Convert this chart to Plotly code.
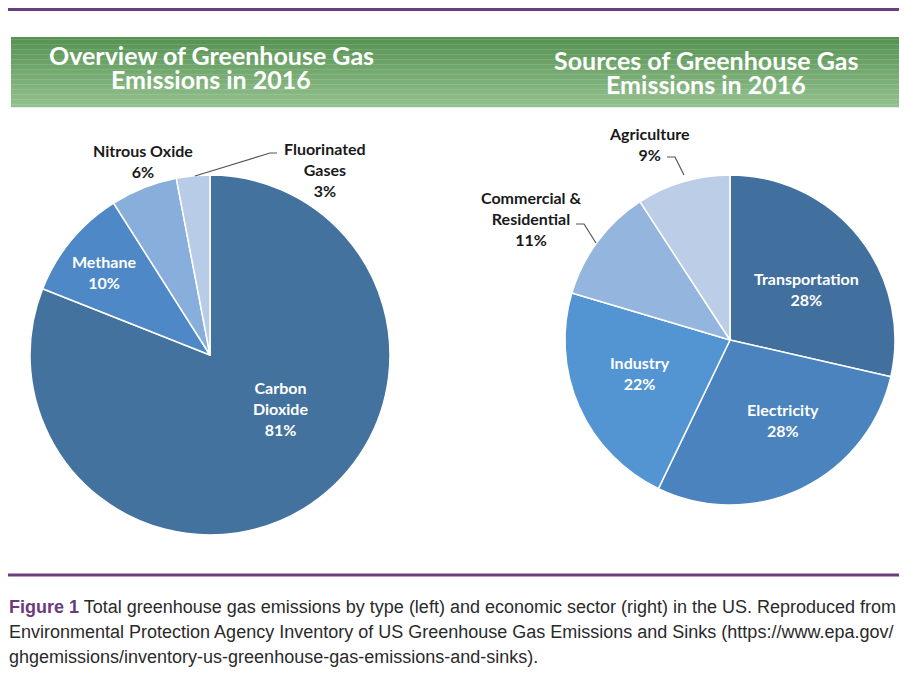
import plotly.graph_objects as go

# page body has an 8px margin; the figure is sized to fit inside the window
OFF = 8
W, H = 907 - OFF, 684 - 2 * OFF - 6

# ---- data ----
gas_names = ["Carbon Dioxide", "Methane", "Nitrous Oxide", "Fluorinated Gases"]
gas_display = ["Carbon<br>Dioxide", "Methane", "Nitrous Oxide", "Fluorinated<br>Gases"]
gas_pct = [81, 10, 6, 3]
gas_colors = ["#44729f", "#4e88c6", "#88aedb", "#b8cce8"]

sector_names = ["Transportation", "Electricity", "Industry", "Commercial & Residential", "Agriculture"]
sector_display = ["Transportation", "Electricity", "Industry", "Commercial &<br>Residential", "Agriculture"]
sector_pct = [28, 28, 22, 11, 9]
sector_colors = ["#41709f", "#4a83bd", "#5394d2", "#94b6de", "#bccde8"]

title_left = ["Overview of Greenhouse Gas", "Emissions in 2016"]
title_right = ["Sources of Greenhouse Gas", "Emissions in 2016"]
caption_lines = [
    "<b><span style='color:#6b3a7d'>Figure 1</span></b> Total greenhouse gas emissions by type (left) and economic sector (right) in the US. Reproduced from US",
    "Environmental Protection Agency Inventory of US Greenhouse Gas Emissions and Sinks (https://www.epa.gov/",
    "ghgemissions/inventory-us-greenhouse-gas-emissions-and-sinks).",
]


def X(px):
    return (px - OFF) / W


def Y(py):
    return 1 - (py - OFF) / H


fig = go.Figure()

fig.add_trace(go.Pie(
    labels=gas_names, values=gas_pct, sort=False, direction="clockwise", rotation=0,
    textinfo="none", marker=dict(colors=gas_colors, line=dict(color="white", width=1.5)),
    domain=dict(x=[X(30), X(390)], y=[Y(535), Y(175)]), showlegend=False,
))
fig.add_trace(go.Pie(
    labels=sector_names, values=sector_pct, sort=False, direction="clockwise", rotation=0,
    textinfo="none", marker=dict(colors=sector_colors, line=dict(color="white", width=1.5)),
    domain=dict(x=[X(565), X(895)], y=[Y(505), Y(175)]), showlegend=False,
))

shapes = []
# purple rules
shapes.append(dict(type="line", xref="paper", yref="paper", x0=0, x1=1, y0=Y(9.5), y1=Y(9.5),
                   line=dict(color="#6b3f7c", width=3)))
shapes.append(dict(type="line", xref="paper", yref="paper", x0=0, x1=1, y0=Y(575), y1=Y(575),
                   line=dict(color="#6b3f7c", width=3)))
# green banner gradient
top, bot = 37, 107
n = 28
c0 = (86, 146, 82)
c1 = (146, 192, 141)
for i in range(n):
    t = i / (n - 1)
    c = tuple(int(round(c0[k] + (c1[k] - c0[k]) * t)) for k in range(3))
    y0 = top + (bot - top) * i / n
    y1 = top + (bot - top) * (i + 1) / n
    shapes.append(dict(type="rect", xref="paper", yref="paper", x0=X(11), x1=1,
                       y0=Y(y1 + 0.3), y1=Y(y0), line=dict(width=0),
                       fillcolor="rgb(%d,%d,%d)" % c, layer="below"))


def path(points):
    d = "M " + " L ".join("%f,%f" % (X(a), Y(b)) for a, b in points)
    return dict(type="path", xref="paper", yref="paper", path=d, line=dict(color="#555555", width=1.2))


# leader lines
shapes.append(path([(195, 176), (270, 153), (277, 153)]))
shapes.append(path([(576, 224), (584, 224), (596, 243)]))
shapes.append(path([(667, 157), (675, 157), (684, 175)]))

ann = []
tfont = dict(family="Lato", size=25, color="white", weight="bold")
ann.append(dict(x=X(211), y=Y(55), text=title_left[0], font=tfont))
ann.append(dict(x=X(211), y=Y(79), text=title_left[1], font=tfont))
ann.append(dict(x=X(706), y=Y(60), text=title_right[0], font=tfont))
ann.append(dict(x=X(706), y=Y(84), text=title_right[1], font=tfont))

wf = dict(family="Lato", size=16, color="white", weight="bold")
bf = dict(family="Lato", size=16, color="#1a1a1a", weight="bold")

gas_pos = [(280, 408, wf), (104, 272, wf), (143, 161, bf), (325, 169, bf)]
for name, pct, (px, py, f) in zip(gas_display, gas_pct, gas_pos):
    ann.append(dict(x=X(px), y=Y(py), text="%s<br>%d%%" % (name, pct), font=f))

sec_pos = [(806, 289, wf), (783, 420, wf), (640, 373, wf), (531, 219, bf), (649, 144, bf)]
for name, pct, (px, py, f) in zip(sector_display, sector_pct, sec_pos):
    ann.append(dict(x=X(px), y=Y(py), text="%s<br>%d%%" % (name, pct), font=f))

cfont = dict(family="Liberation Sans", size=18, color="#2a2a2a")
for i, line in enumerate(caption_lines):
    ann.append(dict(x=X(7), y=Y(607 + 25 * i), text=line, font=cfont, xanchor="left"))

for a in ann:
    a.setdefault("xanchor", "center")
    a.update(xref="paper", yref="paper", yanchor="middle", showarrow=False)

fig.update_layout(
    width=W, height=H, margin=dict(l=0, r=0, t=0, b=0),
    paper_bgcolor="white", plot_bgcolor="white",
    shapes=shapes, annotations=ann,
)

fig.write_html("out.html")
